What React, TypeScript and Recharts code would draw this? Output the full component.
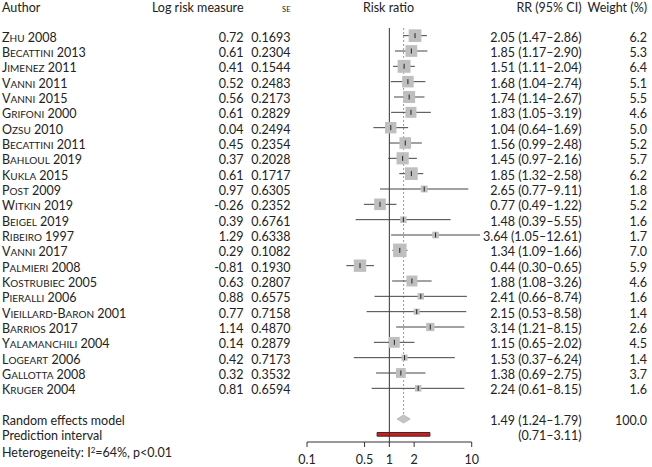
import React from 'react';
import {
  ComposedChart,
  Scatter,
  XAxis,
  YAxis,
  ErrorBar,
  ReferenceLine,
  ReferenceArea,
} from 'recharts';

const authors = [
  'Zhu 2008', 'Becattini 2013', 'Jimenez 2011', 'Vanni 2011', 'Vanni 2015', 'Grifoni 2000',
  'Ozsu 2010', 'Becattini 2011', 'Bahloul 2019', 'Kukla 2015', 'Post 2009', 'Witkin 2019',
  'Beigel 2019', 'Ribeiro 1997', 'Vanni 2017', 'Palmieri 2008', 'Kostrubiec 2005', 'Pieralli 2006',
  'Vieillard-Baron 2001', 'Barrios 2017', 'Yalamanchili 2004', 'Logeart 2006', 'Gallotta 2008', 'Kruger 2004',
];
const logRisk = [
  0.72, 0.61, 0.41, 0.52, 0.56, 0.61, 0.04, 0.45, 0.37, 0.61, 0.97, -0.26,
  0.39, 1.29, 0.29, -0.81, 0.63, 0.88, 0.77, 1.14, 0.14, 0.42, 0.32, 0.81,
];
const seLog = [
  0.1693, 0.2304, 0.1544, 0.2483, 0.2173, 0.2829, 0.2494, 0.2354, 0.2028, 0.1717, 0.6305, 0.2352,
  0.6761, 0.6338, 0.1082, 0.193, 0.2807, 0.6575, 0.7158, 0.487, 0.2879, 0.7173, 0.3532, 0.6594,
];
const rr = [
  2.05, 1.85, 1.51, 1.68, 1.74, 1.83, 1.04, 1.56, 1.45, 1.85, 2.65, 0.77,
  1.48, 3.64, 1.34, 0.44, 1.88, 2.41, 2.15, 3.14, 1.15, 1.53, 1.38, 2.24,
];
const ciLow = [
  1.47, 1.17, 1.11, 1.04, 1.14, 1.05, 0.64, 0.99, 0.97, 1.32, 0.77, 0.49,
  0.39, 1.05, 1.09, 0.3, 1.08, 0.66, 0.53, 1.21, 0.65, 0.37, 0.69, 0.61,
];
const ciHigh = [
  2.86, 2.9, 2.04, 2.74, 2.67, 3.19, 1.69, 2.48, 2.16, 2.58, 9.11, 1.22,
  5.55, 12.61, 1.66, 0.65, 3.26, 8.74, 8.58, 8.15, 2.02, 6.24, 2.75, 8.15,
];
const weights = [
  6.2, 5.3, 6.4, 5.1, 5.5, 4.6, 5.0, 5.2, 5.7, 6.2, 1.8, 5.2,
  1.6, 1.7, 7.0, 5.9, 4.6, 1.6, 1.4, 2.6, 4.5, 1.4, 3.7, 1.6,
];

const pooled = { rr: 1.49, low: 1.24, high: 1.79, weight: 100.0 };
const prediction = { low: 0.71, high: 3.11 };
const xTicks = [0.1, 0.5, 1, 2, 10];

const POOLED_ROW = 25;
const PRED_ROW = 26;
const rowTicks = [...authors.map((_, i) => i), POOLED_ROW, PRED_ROW];

const studies = authors.map((a, i) => ({
  row: i,
  rr: rr[i],
  err: [rr[i] - ciLow[i], ciHigh[i] - rr[i]],
  w: weights[i],
}));

const FONT = 'Lato, "Open Sans", sans-serif';
const FS = 12.5;
const TXT = '#222';
const f2 = (v: number) => v.toFixed(2);

// small caps by hand: lowercase runs become uppercase at a smaller size
function smallCaps(name: string) {
  const parts = name.match(/[a-z]+|[^a-z]+/g) || [];
  return parts.map((s, i) =>
    /[a-z]/.test(s[0]) ? (
      <tspan key={i} fontSize={FS * 0.8}>{s.toUpperCase()}</tspan>
    ) : (
      <tspan key={i}>{s}</tspan>
    ),
  );
}

function LeftTick({ y, payload }: any) {
  const r = payload.value;
  const ty = y + 1.5;
  if (r < authors.length) {
    return (
      <g fontFamily={FONT} fontSize={FS} fill={TXT}>
        <text x={2} y={ty} dy="0.36em">{smallCaps(authors[r])}</text>
        <text x={243.5} y={ty} dy="0.36em" textAnchor="end">{f2(logRisk[r])}</text>
        <text x={290.5} y={ty} dy="0.36em" textAnchor="end">{seLog[r].toFixed(4)}</text>
      </g>
    );
  }
  const label = r === POOLED_ROW ? 'Random effects model' : 'Prediction interval';
  return (
    <text x={2} y={ty} dy="0.36em" fontFamily={FONT} fontSize={FS} fill={TXT}>{label}</text>
  );
}

function RightTick({ y, payload }: any) {
  const r = payload.value;
  const ty = y + 1.5;
  let ci = '';
  let w = '';
  if (r < authors.length) {
    ci = `${f2(rr[r])} (${f2(ciLow[r])}–${f2(ciHigh[r])})`;
    w = weights[r].toFixed(1);
  } else if (r === POOLED_ROW) {
    ci = `${f2(pooled.rr)} (${f2(pooled.low)}–${f2(pooled.high)})`;
    w = pooled.weight.toFixed(1);
  } else {
    ci = `(${f2(prediction.low)}–${f2(prediction.high)})`;
  }
  return (
    <g fontFamily={FONT} fontSize={FS} fill={TXT}>
      <text x={581.5} y={ty} dy="0.36em" textAnchor="end">{ci}</text>
      {w && <text x={647} y={ty} dy="0.36em" textAnchor="end">{w}</text>}
    </g>
  );
}

const Square = (p: any) => {
  const s = 5.1 * Math.sqrt(p.payload.w);
  return <rect x={p.cx - s / 2} y={p.cy - s / 2} width={s} height={s} fill="#bfbfbf" />;
};

const EstTick = (p: any) => (
  <line x1={p.cx} x2={p.cx} y1={p.cy - 2.5} y2={p.cy + 2.5} stroke="#222" strokeWidth={1} />
);

const Diamond = (p: any) => {
  const { x, y, width, height } = p;
  const pts = `${x},${y + height / 2} ${x + width / 2},${y} ${x + width},${y + height / 2} ${x + width / 2},${y + height}`;
  return <polygon points={pts} fill="#c4c4c4" stroke="#bdbdbd" />;
};

export default function App() {
  return (
    <div style={{ position: 'absolute', left: 0, top: 0, width: 652, height: 467, background: '#fff' }}>
      <ComposedChart
        width={652}
        height={467}
        data={studies}
        margin={{ top: 28, right: 0, bottom: 0, left: 0 }}
      >
        <XAxis
          dataKey="rr"
          type="number"
          scale="log"
          domain={[0.1, 12.61]}
          ticks={xTicks}
          axisLine={false}
          tickSize={5}
          tickMargin={8}
          height={25}
          tick={{ fontFamily: FONT, fontSize: FS, fill: TXT }}
          tickLine={{ stroke: '#333' }}
        />
        <YAxis
          yAxisId="l"
          dataKey="row"
          type="number"
          domain={[-0.5, 26.5]}
          reversed
          ticks={rowTicks}
          interval={0}
          width={307}
          axisLine={false}
          tickLine={false}
          tick={<LeftTick />}
        />
        <YAxis
          yAxisId="r"
          orientation="right"
          dataKey="row"
          type="number"
          domain={[-0.5, 26.5]}
          reversed
          ticks={rowTicks}
          interval={0}
          width={172}
          axisLine={false}
          tickLine={false}
          tick={<RightTick />}
        />
        <ReferenceLine
          yAxisId="l"
          segment={[{ x: 0.1, y: 26.5 }, { x: 10, y: 26.5 }]}
          stroke="#333"
        />
        <ReferenceLine
          yAxisId="l"
          segment={[{ x: 1, y: -0.5 }, { x: 1, y: 26.5 }]}
          stroke="#333"
        />
        <ReferenceLine
          yAxisId="l"
          segment={[{ x: pooled.rr, y: -0.5 }, { x: pooled.rr, y: 24.7 }]}
          stroke="#999"
          strokeDasharray="2 2"
        />
        <Scatter yAxisId="l" data={studies} shape={Square} isAnimationActive={false} />
        <Scatter yAxisId="l" data={studies} shape={EstTick} isAnimationActive={false}>
          <ErrorBar dataKey="err" direction="x" width={0} stroke="#444" strokeWidth={1} />
        </Scatter>
        <ReferenceArea
          yAxisId="l"
          x1={pooled.low}
          x2={pooled.high}
          y1={POOLED_ROW - 0.26}
          y2={POOLED_ROW + 0.26}
          shape={Diamond}
        />
        <ReferenceArea
          yAxisId="l"
          x1={prediction.low}
          x2={prediction.high}
          y1={PRED_ROW - 0.12}
          y2={PRED_ROW + 0.12}
          fill="#d01c1c"
          fillOpacity={1}
          stroke="#3a2a2a"
          strokeWidth={1}
        />
      </ComposedChart>
      <svg
        width={652}
        height={467}
        style={{ position: 'absolute', left: 0, top: 0, pointerEvents: 'none' }}
        fontFamily={FONT}
        fontSize={FS}
        fill={TXT}
      >
        <text x={2} y={11.7}>Author</text>
        <text x={243.5} y={11.7} textAnchor="end">Log risk measure</text>
        <text x={290.5} y={12.3} textAnchor="end" fontSize={7.5}>SE</text>
        <text x={388.5} y={11.7} textAnchor="middle">Risk ratio</text>
        <text x={581.5} y={11.7} textAnchor="end">RR (95% CI)</text>
        <text x={647} y={11.7} textAnchor="end">Weight (%)</text>
        <text x={2} y={456.5}>
          Heterogeneity: I<tspan fontSize={8} dy={-4}>2</tspan><tspan dy={4}>=64%, p&lt;0.01</tspan>
        </text>
      </svg>
    </div>
  );
}
